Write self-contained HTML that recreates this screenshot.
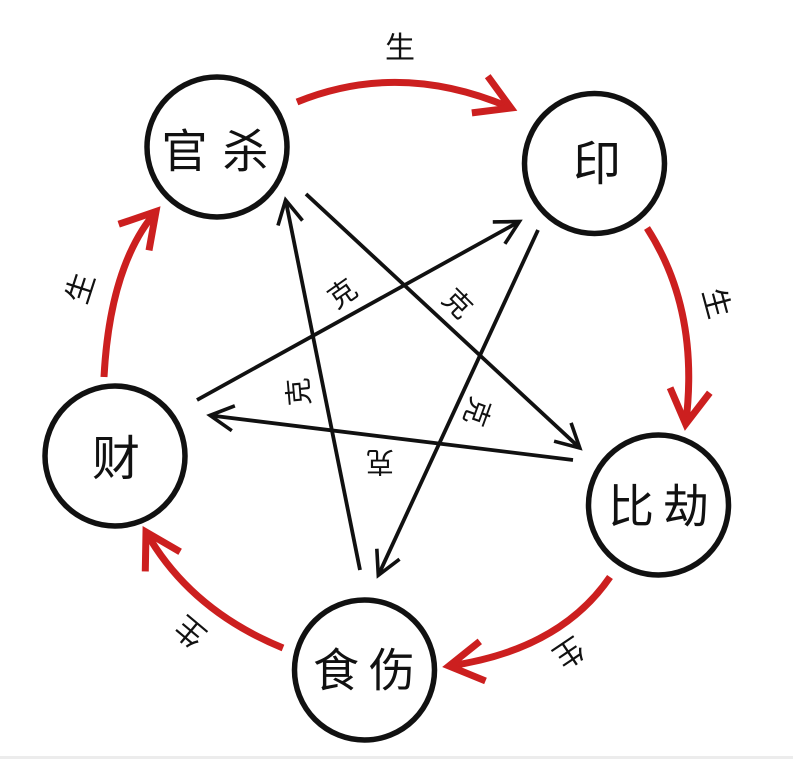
<!DOCTYPE html>
<html>
<head>
<meta charset="utf-8">
<style>
  html, body { margin: 0; padding: 0; background: #ffffff; }
  body { width: 793px; height: 759px; overflow: hidden; }
  svg { display: block; }
  text { font-family: "Liberation Sans", "Noto Sans CJK SC", sans-serif; fill: #111; }
</style>
</head>
<body>
<svg width="793" height="759" viewBox="0 0 793 759" xmlns="http://www.w3.org/2000/svg">
  <defs>
    <marker id="ab" markerUnits="userSpaceOnUse" markerWidth="60" markerHeight="60" refX="0" refY="0" orient="auto" overflow="visible">
      <path d="M-23.5,-12.5 L0,0 L-23.5,12.5" fill="none" stroke="#111" stroke-width="3.6" stroke-linejoin="miter"/>
    </marker>
    <marker id="ar" markerUnits="userSpaceOnUse" markerWidth="80" markerHeight="80" refX="0" refY="0" orient="auto" overflow="visible">
      <path d="M-34,-20 L0,0 L-34,20" fill="none" stroke="#cc1f1f" stroke-width="7" stroke-linejoin="miter"/>
    </marker>
  </defs>

  <rect x="0" y="0" width="793" height="759" fill="#fff"/>
  <rect x="0" y="756" width="793" height="3" fill="#ececec"/>

  <!-- Red 生 arcs -->
  <g fill="none" stroke="#cc1f1f" stroke-width="7" stroke-linecap="butt">
    <path d="M297,102 Q400,60 511,108" marker-end="url(#ar)"/>
    <path d="M647,228 Q700,310 685.7,424" marker-end="url(#ar)"/>
    <path d="M610,577 Q560,650 449,666" marker-end="url(#ar)"/>
    <path d="M283,648 Q190,610 146,532" marker-end="url(#ar)"/>
    <path d="M104,377 Q110,265 156,211.5" marker-end="url(#ar)"/>
  </g>

  <!-- Black 克 star lines -->
  <g fill="none" stroke="#111" stroke-width="3.8">
    <line x1="360" y1="570" x2="285.6" y2="200" marker-end="url(#ab)"/>
    <line x1="197" y1="400" x2="519.4" y2="221.5" marker-end="url(#ab)"/>
    <line x1="306" y1="194" x2="579.8" y2="448" marker-end="url(#ab)"/>
    <line x1="538" y1="230" x2="378.3" y2="575.3" marker-end="url(#ab)"/>
    <line x1="573" y1="460" x2="210" y2="415.4" marker-end="url(#ab)"/>
  </g>

  <!-- Circles -->
  <g fill="#fff" stroke="#111" stroke-width="5.5">
    <circle cx="217" cy="147" r="70"/>
    <circle cx="594.5" cy="163.5" r="70"/>
    <circle cx="658.5" cy="505" r="70"/>
    <circle cx="364.5" cy="670" r="70"/>
    <circle cx="115" cy="456" r="70"/>
  </g>

  <!-- Node labels -->
  <g font-size="46" text-anchor="middle">
    <text x="184.5" y="167.5">官</text>
    <text x="245.5" y="167.5">杀</text>
    <text x="631" y="522.5">比</text>
    <text x="686" y="522.5">劫</text>
    <text x="336" y="686.5">食</text>
    <text x="392" y="686.5">伤</text>
  </g>
  <g font-size="48" text-anchor="middle">
    <text x="597" y="180">印</text>
    <text x="116" y="475">财</text>
  </g>

  <!-- 生 labels -->
  <g font-size="30" text-anchor="middle">
    <text transform="translate(400,47) rotate(0)" x="0" y="11">生</text>
    <text transform="translate(717,303) rotate(75)" x="0" y="11">生</text>
    <text transform="translate(569,653) rotate(146)" x="0" y="11">生</text>
    <text transform="translate(190,632) rotate(-140)" x="0" y="11">生</text>
    <text transform="translate(80,288) rotate(-72)" x="0" y="11">生</text>
  </g>

  <!-- 克 labels -->
  <g font-size="28" text-anchor="middle">
    <text transform="translate(342,293) rotate(-35)" x="0" y="10.5">克</text>
    <text transform="translate(458,303) rotate(45)" x="0" y="10.5">克</text>
    <text transform="translate(298,392) rotate(-95)" x="0" y="10.5">克</text>
    <text transform="translate(478,412) rotate(110)" x="0" y="10.5">克</text>
    <text transform="translate(380,463) rotate(180)" x="0" y="10.5">克</text>
  </g>
</svg>
</body>
</html>
